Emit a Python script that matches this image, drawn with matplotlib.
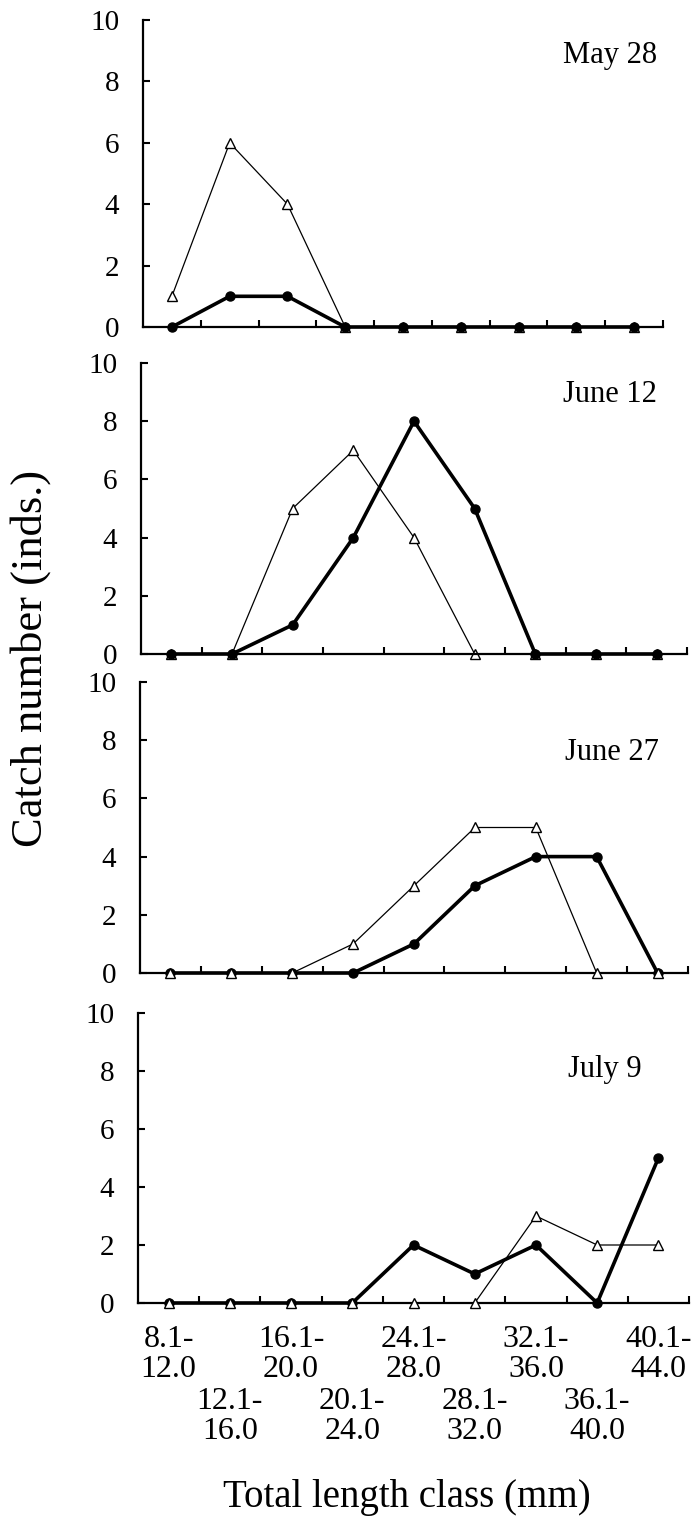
import matplotlib
matplotlib.use("Agg")
import matplotlib.pyplot as plt
import numpy as np

plt.rcParams['font.family'] = ['Liberation Serif', 'DejaVu Serif']

# length classes (mm)
classes = ["8.1-\n12.0", "12.1-\n16.0", "16.1-\n20.0", "20.1-\n24.0", "24.1-\n28.0",
           "28.1-\n32.0", "32.1-\n36.0", "36.1-\n40.0", "40.1-\n44.0"]
dates = ["May 28", "June 12", "June 27", "July 9"]

# open triangles (thin line)
tri_may28 = [1, 6, 4, 0, 0, 0, 0, 0, 0]
tri_jun12 = [0, 0, 5, 7, 4, 0, 0, 0, 0]
tri_jun27 = [0, 0, 0, 1, 3, 5, 5, 0, 0]
tri_jul09 = [0, 0, 0, 0, 0, 0, 3, 2, 2]

# filled circles (thick line)
dot_may28 = [0, 1, 1, 0, 0, 0, 0, 0, 0]
dot_jun12 = [0, 0, 1, 4, 8, 5, 0, 0, 0]
dot_jun27 = [0, 0, 0, 0, 1, 3, 4, 4, 0]
dot_jul09 = [0, 0, 0, 0, 2, 1, 2, 0, 5]

tri_series = [tri_may28, tri_jun12, tri_jun27, tri_jul09]
dot_series = [dot_may28, dot_jun12, dot_jun27, dot_jul09]

W, H = 697, 1531
fig = plt.figure(figsize=(W / 100, H / 100), dpi=100)

# panel boxes in pixels: left, right, top, bottom
boxes = [(143, 663, 20, 327), (141, 687, 363, 654),
         (140, 688, 682, 973), (138, 689, 1013, 1303)]
# date label centres in pixels
date_pos = [(610, 55), (610, 395), (612, 753), (605, 1069)]

x = np.arange(len(classes))

for i, (l, r, t, b) in enumerate(boxes):
    ax = fig.add_axes([l / W, 1 - b / H, (r - l) / W, (b - t) / H])
    tri_top = i >= 2
    ax.plot(x, tri_series[i], color='black', lw=0.9, marker='^', ms=7.5,
            mfc='white', mec='black', mew=1.0, clip_on=False, zorder=4 if tri_top else 2)
    ax.plot(x, dot_series[i], color='black', lw=2.6, marker='o', ms=6.5,
            mfc='black', mec='black', clip_on=False, zorder=3)

    ax.set_xlim(-0.5, len(classes) - 0.5)
    ax.set_ylim(0, 10)
    ax.set_yticks(np.arange(0, 11, 2))
    ax.set_xticks(np.arange(0.5, len(classes), 1.0))
    ax.set_xticklabels([])
    ax.tick_params(axis='both', direction='in', length=5, width=1.5, labelsize=21)
    ax.tick_params(axis='y', pad=17)
    for s in ['top', 'right']:
        ax.spines[s].set_visible(False)
    for s in ['left', 'bottom']:
        ax.spines[s].set_linewidth(1.6)
    ax.patch.set_visible(False)

    dx, dy = date_pos[i]
    fig.text(dx / W, 1 - dy / H, dates[i], fontsize=22, ha='center', va='center')

    if i == len(boxes) - 1:
        for j, lab in enumerate(classes):
            off = -22 if j % 2 == 0 else -84
            ax.annotate(lab, xy=(j, 0), xycoords=('data', 'axes fraction'),
                        xytext=(0, off), textcoords='offset pixels',
                        ha='center', va='top', fontsize=23, linespacing=1.05,
                        annotation_clip=False)

fig.text(31 / W, 1 - 658 / H, "Catch number (inds.)", fontsize=32,
         rotation=90, ha='center', va='center')
fig.text(407 / W, 1 - 1497 / H, "Total length class (mm)", fontsize=28,
         ha='center', va='center')

fig.savefig("out.png", dpi=100)
